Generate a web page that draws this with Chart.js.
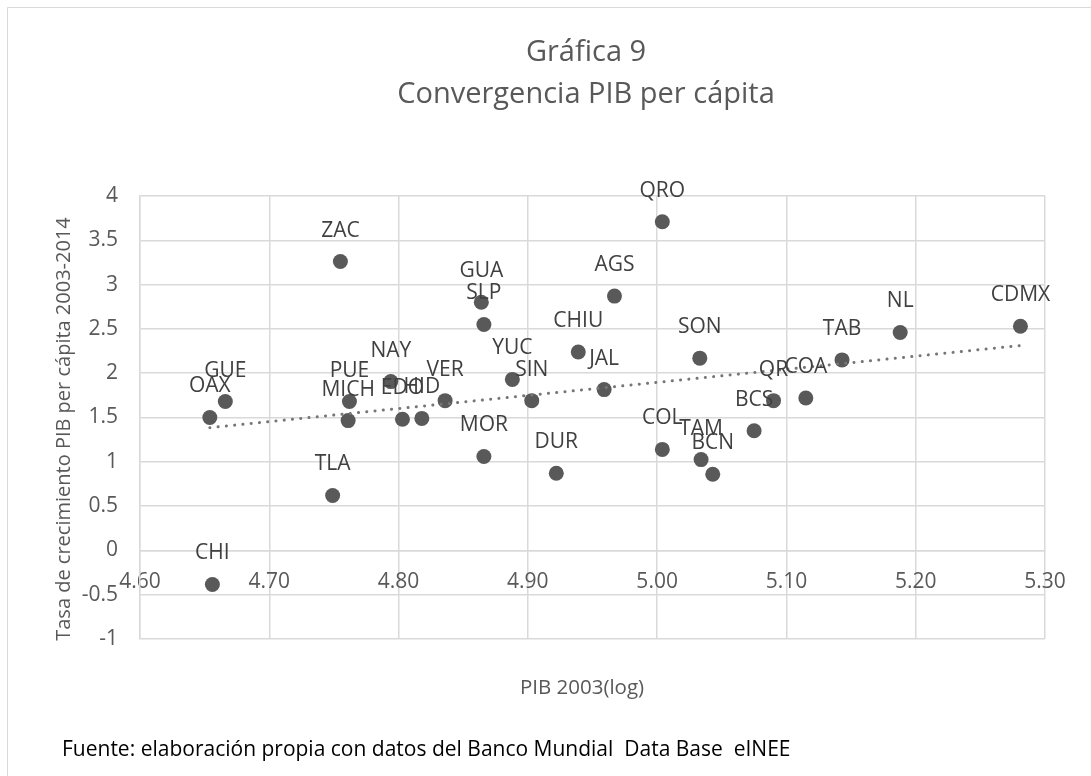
<!DOCTYPE html>
<html>
<head>
<meta charset="utf-8">
<script src="https://cdn.jsdelivr.net/npm/chart.js@4.4.0/dist/chart.umd.min.js"></script>
<style>
  body { margin: 0; background: #fff; }
  #wrap { width: 1091px; height: 776px; position: relative; }
</style>
</head>
<body>
<div id="wrap"><canvas id="convChart"></canvas></div>
<script>
// estados y valores
const estados = ['ZAC','OAX','GUE','PUE','MICH','NAY','EDO','HID','VER','GUA','SLP','MOR','TLA',
                 'QRO','AGS','CHIU','YUC','SIN','JAL','SON','COL','TAM','BCN','BCS','QR','COA',
                 'TAB','DUR','NL','CDMX','CHI'];
const pib2003 = [4.755, 4.654, 4.666, 4.762, 4.761, 4.794, 4.803, 4.818, 4.836, 4.864, 4.866, 4.866, 4.749,
                 5.004, 4.967, 4.939, 4.888, 4.903, 4.959, 5.033, 5.004, 5.034, 5.043, 5.075, 5.090, 5.115,
                 5.143, 4.922, 5.188, 5.281, 4.656];
const tasa = [3.26, 1.50, 1.68, 1.68, 1.465, 1.905, 1.48, 1.49, 1.69, 2.80, 2.55, 1.06, 0.62,
              3.71, 2.87, 2.24, 1.93, 1.69, 1.815, 2.17, 1.14, 1.025, 0.86, 1.35, 1.69, 1.72,
              2.15, 0.87, 2.46, 2.53, -0.385];
const xTicks = [4.6, 5.3, 0.1];   // min, max, paso
const yTicks = [-1, 4, 0.5];

const puntos = estados.map((e, i) => ({x: pib2003[i], y: tasa[i]}));

// linea de tendencia (minimos cuadrados)
const n = puntos.length;
const mx = pib2003.reduce((a, b) => a + b, 0) / n;
const my = tasa.reduce((a, b) => a + b, 0) / n;
let sxy = 0, sxx = 0;
for (let i = 0; i < n; i++) {
    sxy += (pib2003[i] - mx) * (tasa[i] - my);
    sxx += (pib2003[i] - mx) * (pib2003[i] - mx);
}
const pend = sxy / sxx;
const inter = my - pend * mx;
const x0 = Math.min(...pib2003), x1 = Math.max(...pib2003);
const tendencia = [{x: x0, y: inter + pend * x0}, {x: x1, y: inter + pend * x1}];

const FONT = "'Open Sans', 'Liberation Sans', sans-serif";
const GRIS = '#595959';

const decorado = {
    id: 'decorado',
    beforeDraw(chart) {
        const ctx = chart.ctx;
        ctx.save();
        ctx.fillStyle = '#fff';
        ctx.fillRect(0, 0, chart.width, chart.height);
        ctx.strokeStyle = '#d9d9d9';
        ctx.lineWidth = 1;
        ctx.beginPath();
        ctx.moveTo(7.5, chart.height);
        ctx.lineTo(7.5, 7.5);
        ctx.lineTo(chart.width, 7.5);
        ctx.stroke();
        ctx.restore();
    },
    afterDatasetsDraw(chart) {
        const ctx = chart.ctx;
        const meta = chart.getDatasetMeta(1);
        ctx.save();
        ctx.font = '21px ' + FONT;
        ctx.fillStyle = '#404040';
        ctx.textAlign = 'center';
        ctx.textBaseline = 'middle';
        meta.data.forEach((p, i) => {
            ctx.fillText(estados[i], p.x, p.y - 31);
        });
        ctx.restore();
    },
    afterDraw(chart) {
        const ctx = chart.ctx;
        ctx.save();
        ctx.fillStyle = GRIS;
        ctx.textAlign = 'center';
        ctx.textBaseline = 'middle';
        ctx.font = '29px ' + FONT;
        ctx.fillText('Gráfica 9', 586, 53);
        ctx.fillText('Convergencia PIB per cápita', 586, 95);
        ctx.font = '20.5px ' + FONT;
        ctx.fillText('PIB 2003(log)', 582, 688);
        ctx.save();
        ctx.translate(64, 429);
        ctx.rotate(-Math.PI / 2);
        ctx.font = '20px ' + FONT;
        ctx.fillText('Tasa de crecimiento PIB per cápita 2003-2014', 0, 0);
        ctx.restore();
        ctx.textAlign = 'left';
        ctx.fillStyle = '#000';
        ctx.font = '21px ' + FONT;
        ctx.fillText('Fuente: elaboración propia con datos del Banco Mundial  Data Base  eINEE', 62, 750);
        ctx.restore();
    }
};

document.addEventListener('DOMContentLoaded', () => {
    const ctx = document.getElementById('convChart').getContext('2d');
    new Chart(ctx, {
        type: 'scatter',
        data: {
            datasets: [{
                type: 'line',
                label: 'Tendencia',
                data: tendencia,
                borderColor: '#767676',
                borderWidth: 3,
                borderDash: [0.1, 8.2],
                borderCapStyle: 'round',
                pointRadius: 0,
                fill: false,
                order: 0
            }, {
                label: 'Estados',
                data: puntos,
                pointRadius: 7.5,
                pointHoverRadius: 7.5,
                pointBackgroundColor: GRIS,
                pointBorderWidth: 0,
                order: 1
            }]
        },
        options: {
            responsive: true,
            maintainAspectRatio: false,
            animation: false,
            layout: {
                padding: {left: 0, top: 196, right: 46, bottom: 137}
            },
            scales: {
                x: {
                    type: 'linear',
                    position: {y: 0},
                    min: xTicks[0],
                    max: xTicks[1],
                    afterFit(s) { s.paddingLeft = 0; s.paddingRight = 0; },
                    ticks: {
                        stepSize: xTicks[2],
                        padding: 19,
                        color: GRIS,
                        font: {family: FONT, size: 21},
                        callback: (v) => Number(v).toFixed(2)
                    },
                    grid: {color: '#d9d9d9', lineWidth: 1.5, drawTicks: false},
                    border: {color: '#d9d9d9', width: 1.5}
                },
                y: {
                    min: yTicks[0],
                    max: yTicks[1],
                    afterFit(s) { s.width = 140; s.paddingTop = 0; s.paddingBottom = 0; },
                    ticks: {
                        stepSize: yTicks[2],
                        padding: 22,
                        color: GRIS,
                        font: {family: FONT, size: 21},
                        callback: (v) => String(Number(Number(v).toFixed(1)))
                    },
                    grid: {color: '#d9d9d9', lineWidth: 1.5, drawTicks: false},
                    border: {color: '#d9d9d9', width: 1.5}
                }
            },
            plugins: {
                legend: {display: false},
                tooltip: {enabled: false}
            }
        },
        plugins: [decorado]
    });
});
</script>
</body>
</html>
